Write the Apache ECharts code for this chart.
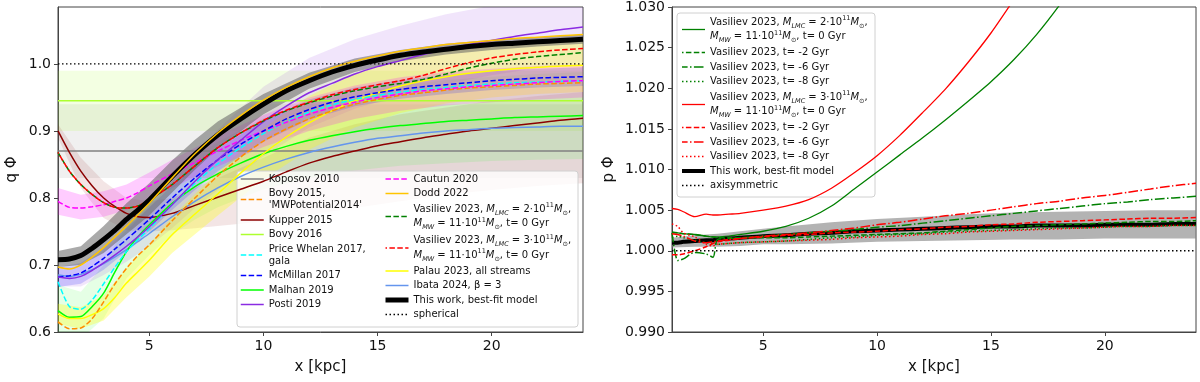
<!DOCTYPE html>
<html>
<head>
<meta charset="utf-8">
<title>q and p of the halo potential</title>
<script src="https://cdn.jsdelivr.net/npm/echarts@6/dist/echarts.min.js"></script>
<style>
    html, body { margin: 0; padding: 0; background: #fff; }
    #main { width: 1200px; height: 382px; }
</style>
</head>
<body>
<div id="main"></div>
<script>
// ---------- left panel: q_phi ----------
var xq = [1, 1.5, 2, 2.5, 3, 3.5, 4, 4.5, 5, 6, 7, 8, 9, 10, 11, 12, 13, 14, 15, 16, 17, 18, 19, 20, 21, 22, 23, 24];

var thisWorkQ    = [0.708,0.709,0.714,0.725,0.738,0.752,0.768,0.782,0.797,0.832,0.865,0.894,0.918,0.940,0.960,0.975,0.988,0.998,1.006,1.013,1.018,1.022,1.026,1.029,1.031,1.033,1.035,1.037];
var doddQ        = [0.697,0.694,0.700,0.712,0.726,0.742,0.758,0.775,0.792,0.830,0.866,0.897,0.923,0.946,0.965,0.981,0.994,1.004,1.012,1.019,1.024,1.029,1.032,1.035,1.038,1.040,1.042,1.044];
var kupperQ      = [0.900,0.868,0.840,0.818,0.800,0.787,0.777,0.772,0.771,0.777,0.789,0.801,0.813,0.825,0.839,0.852,0.862,0.870,0.878,0.884,0.890,0.895,0.900,0.904,0.908,0.912,0.916,0.919];
var malhanQ      = [0.632,0.622,0.623,0.638,0.658,0.690,0.720,0.742,0.760,0.792,0.817,0.836,0.852,0.866,0.877,0.886,0.893,0.899,0.904,0.908,0.911,0.914,0.916,0.918,0.920,0.921,0.922,0.923];
var postiQ       = [0.682,0.680,0.683,0.692,0.703,0.715,0.728,0.742,0.757,0.790,0.825,0.857,0.886,0.914,0.937,0.957,0.971,0.985,0.996,1.005,1.014,1.022,1.029,1.035,1.041,1.046,1.051,1.055];
var mcmillanQ    = [0.682,0.684,0.688,0.698,0.710,0.724,0.738,0.753,0.768,0.800,0.830,0.857,0.880,0.900,0.918,0.932,0.943,0.951,0.957,0.962,0.966,0.969,0.972,0.975,0.977,0.979,0.980,0.981];
var priceWhelanQ = [0.675,0.638,0.634,0.648,0.672,0.697,0.720,0.738,0.754,0.790,0.822,0.851,0.875,0.896,0.914,0.928,0.939,0.947,0.953,0.958,0.962,0.965,0.968,0.970,0.972,0.973,0.974,0.975];
var bovy15Q      = [0.615,0.605,0.606,0.620,0.645,0.672,0.695,0.714,0.730,0.766,0.800,0.833,0.861,0.885,0.903,0.918,0.930,0.940,0.947,0.953,0.957,0.961,0.964,0.966,0.968,0.970,0.971,0.972];
var cautunQ      = [0.795,0.786,0.785,0.787,0.790,0.795,0.800,0.808,0.818,0.836,0.853,0.870,0.886,0.900,0.913,0.925,0.935,0.943,0.950,0.955,0.960,0.963,0.966,0.968,0.970,0.972,0.974,0.975];
var vas2Q        = [0.868,0.840,0.820,0.805,0.793,0.786,0.785,0.788,0.797,0.820,0.848,0.875,0.897,0.915,0.930,0.942,0.952,0.960,0.966,0.971,0.977,0.985,0.994,1.001,1.007,1.011,1.014,1.017];
var vas3Q        = [0.868,0.840,0.820,0.805,0.793,0.786,0.785,0.788,0.797,0.820,0.848,0.875,0.897,0.916,0.931,0.943,0.954,0.962,0.969,0.975,0.983,0.993,1.002,1.009,1.014,1.018,1.021,1.023];
var palauQ       = [0.627,0.620,0.620,0.626,0.635,0.652,0.673,0.690,0.707,0.745,0.776,0.806,0.837,0.866,0.891,0.912,0.930,0.945,0.957,0.967,0.975,0.981,0.986,0.990,0.993,0.995,0.997,0.998];
var ibataQ       = [0.685,0.683,0.686,0.693,0.702,0.712,0.723,0.735,0.747,0.772,0.795,0.815,0.832,0.846,0.858,0.868,0.876,0.883,0.889,0.893,0.897,0.900,0.902,0.904,0.905,0.906,0.907,0.907];

// constant measurements [value, low, high]
var koposov = [0.87, 0.83, 0.94];
var bovy16  = [0.945, 0.90, 0.99];
var sphericalQ = 1.0;

// uncertainty bands (coarser grid)
var bxq = [1, 2, 3, 4, 5, 6, 7, 8, 10, 12, 14, 16, 18, 20, 22, 24];
var thisWorkLo = [0.697,0.700,0.718,0.746,0.774,0.808,0.842,0.874,0.925,0.963,0.988,1.004,1.014,1.021,1.026,1.030];
var thisWorkHi = [0.721,0.728,0.758,0.792,0.822,0.856,0.887,0.914,0.955,0.987,1.008,1.021,1.030,1.036,1.040,1.044];
var mcmillanLo = [0.667,0.672,0.693,0.720,0.750,0.782,0.812,0.840,0.884,0.917,0.937,0.948,0.955,0.961,0.965,0.967];
var mcmillanHi = [0.697,0.703,0.726,0.755,0.786,0.818,0.848,0.874,0.916,0.947,0.965,0.976,0.983,0.989,0.993,0.995];
var postiLo    = [0.668,0.668,0.685,0.705,0.728,0.755,0.785,0.812,0.862,0.905,0.933,0.953,0.970,0.983,0.994,1.003];
var postiHi    = [0.696,0.698,0.721,0.751,0.786,0.825,0.865,0.902,0.966,1.009,1.037,1.057,1.074,1.087,1.098,1.107];
var cautunLo   = [0.775,0.768,0.772,0.782,0.798,0.815,0.831,0.847,0.876,0.900,0.918,0.930,0.938,0.943,0.947,0.950];
var cautunHi   = [0.815,0.805,0.810,0.820,0.838,0.857,0.875,0.893,0.924,0.950,0.968,0.980,0.988,0.993,0.997,1.000];
var palauLo    = [0.612,0.605,0.617,0.652,0.683,0.718,0.746,0.774,0.828,0.872,0.905,0.927,0.941,0.950,0.955,0.958];
var palauHi    = [0.642,0.637,0.655,0.695,0.731,0.772,0.806,0.838,0.904,0.952,0.985,1.007,1.021,1.030,1.035,1.038];
var malhanLo   = [0.600,0.590,0.620,0.680,0.715,0.745,0.768,0.786,0.813,0.830,0.841,0.848,0.852,0.855,0.857,0.858];
var malhanHi   = [0.670,0.660,0.700,0.760,0.800,0.835,0.862,0.884,0.919,0.942,0.957,0.968,0.976,0.981,0.985,0.988];
var kupperLo   = [0.890,0.815,0.770,0.752,0.750,0.752,0.755,0.758,0.765,0.775,0.785,0.795,0.805,0.812,0.818,0.822];
var kupperHi   = [0.910,0.860,0.825,0.800,0.795,0.800,0.815,0.830,0.860,0.890,0.910,0.925,0.935,0.945,0.952,0.958];

// ---------- right panel: p_phi ----------
var xp = [1, 1.25, 1.5, 2, 2.5, 2.8, 3, 3.5, 4, 5, 6, 7, 8, 9, 10, 11, 12, 13, 14, 15, 16, 17, 18, 19, 20, 21, 22, 23, 24];

var v2t0P  = [1.0022,1.0022,1.0021,1.0020,1.0018,1.0017,1.0017,1.0018,1.0020,1.0024,1.0030,1.0040,1.0055,1.0076,1.0097,1.0118,1.0139,1.0161,1.0184,1.0208,1.0235,1.0266,1.0302,1.0342];
var v2t2P  = [1.0023,1.0022,1.0021,1.0020,1.0018,1.0017,1.0016,1.0016,1.0016,1.0016,1.0016,1.0017,1.0018,1.0019,1.0020,1.0021,1.0022,1.0024,1.0026,1.0028,1.0030,1.0031,1.0032,1.0033,1.0034,1.0035,1.0036,1.0036,1.0037];
var v2t6P  = [1.0022,0.9988,0.9990,0.9998,0.9996,0.9992,1.0014,1.0015,1.0016,1.0018,1.0020,1.0022,1.0024,1.0026,1.0029,1.0031,1.0034,1.0037,1.0040,1.0043,1.0046,1.0049,1.0052,1.0055,1.0058,1.0060,1.0063,1.0065,1.0067];
var v2t8P  = [1.0016,1.0018,1.0016,1.0013,1.0010,1.0009,1.0008,1.0009,1.0010,1.0011,1.0012,1.0014,1.0016,1.0017,1.0019,1.0020,1.0021,1.0023,1.0024,1.0025,1.0026,1.0027,1.0028,1.0028,1.0029,1.0030,1.0030,1.0031,1.0031];
var v3t0P  = [1.0052,1.0051,1.0048,1.0042,1.0045,1.0044,1.0044,1.0045,1.0046,1.0050,1.0055,1.0063,1.0077,1.0096,1.0117,1.0142,1.0170,1.0199,1.0232,1.0268,1.0309];
var v3t2P  = [0.9995,0.9995,0.9996,1.0000,1.0005,1.0009,1.0011,1.0013,1.0015,1.0017,1.0019,1.0020,1.0022,1.0023,1.0024,1.0026,1.0027,1.0029,1.0030,1.0032,1.0033,1.0035,1.0036,1.0037,1.0038,1.0039,1.0040,1.0040,1.0041];
var v3t6P  = [1.0021,1.0020,1.0018,1.0012,1.0010,1.0011,1.0012,1.0014,1.0015,1.0018,1.0020,1.0022,1.0025,1.0028,1.0032,1.0035,1.0039,1.0043,1.0046,1.0050,1.0054,1.0058,1.0061,1.0065,1.0068,1.0072,1.0076,1.0080,1.0083];
var v3t8P  = [1.0033,1.0030,1.0022,1.0017,1.0008,1.0006,1.0008,1.0009,1.0010,1.0011,1.0012,1.0013,1.0014,1.0016,1.0017,1.0018,1.0020,1.0021,1.0023,1.0024,1.0025,1.0026,1.0027,1.0028,1.0029,1.0030,1.0030,1.0031,1.0031];
var thisWorkP = [1.0010,1.0010,1.0011,1.0012,1.0013,1.0013,1.0014,1.0015,1.0016,1.0018,1.0019,1.0021,1.0022,1.0024,1.0025,1.0026,1.0027,1.0028,1.0029,1.0030,1.0030,1.0031,1.0031,1.0031,1.0032,1.0032,1.0032,1.0033,1.0033];
var axisymP = 1.0;

var bxp = [1, 2, 3, 4, 5, 6, 8, 10, 12, 14, 16, 18, 20, 22, 24];
var thisWorkPLo = [1.0004,1.0005,1.0005,1.0006,1.0008,1.0008,1.0009,1.0011,1.0012,1.0013,1.0014,1.0014,1.0015,1.0015,1.0015];
var thisWorkPHi = [1.0016,1.0019,1.0021,1.0024,1.0027,1.0030,1.0035,1.0039,1.0042,1.0045,1.0047,1.0048,1.0049,1.0050,1.0050];

// ticks
var xTicks = [5, 10, 15, 20];
var qTicks = [0.6, 0.7, 0.8, 0.9, 1.0];
var pTicks = [0.990, 0.995, 1.000, 1.005, 1.010, 1.015, 1.020, 1.025, 1.030];

// ---------- helpers ----------
var FONT = 'DejaVu Sans';
var DASH = [5.5, 2.4], DOT = [1.5, 2.5], DASHDOT = [9.6, 2.4, 1.5, 2.4];

function pairs(xs, ys) {
    var out = [];
    for (var i = 0; i < ys.length; i++) out.push([xs[i], ys[i]]);
    return out;
}

function line(name, ax, xs, ys, color, width, type) {
    return {
        name: name, type: 'line', xAxisIndex: ax, yAxisIndex: ax,
        data: pairs(xs, ys), symbol: 'none', smooth: 0.25, silent: true,
        lineStyle: { color: color, width: width, type: type || 'solid' },
        itemStyle: { color: color }
    };
}

// filled band between lo and hi, drawn as one polygon through the axes
function band(id, ax, xs, lo, hi, fill) {
    return {
        name: id, type: 'custom', xAxisIndex: ax, yAxisIndex: ax, clip: true, silent: true,
        data: xs.map(function (x, i) { return [x, lo[i], hi[i]]; }),
        encode: { x: 0, y: [1, 2] },
        renderItem: function (params, api) {
            if (params.dataIndex !== 0) return;
            var pts = [], i;
            for (i = 0; i < xs.length; i++) pts.push(api.coord([xs[i], hi[i]]));
            for (i = xs.length - 1; i >= 0; i--) pts.push(api.coord([xs[i], lo[i]]));
            return { type: 'polygon', shape: { points: pts }, style: { fill: fill } };
        }
    };
}

function flat(name, ax, value, color, width, type, area, areaColor) {
    var s = line(name, ax, [1, 24], [value, value], color, width, type);
    s.smooth = false;
    if (area) {
        s.markArea = { silent: true, itemStyle: { color: areaColor },
            data: [[{ yAxis: area[0] }, { yAxis: area[1] }]] };
    }
    return s;
}

// legend labels (math via rich text)
function vasLabel(m) {
    return '{n|Vasiliev 2023, }{i|M}{s|LMC}{n| = ' + m + '·10}{p|11}{i|M}{s|⊙}{n|,}\n' +
           '{i|M}{s|MW}{n| = 11·10}{p|11}{i|M}{s|⊙}{n|, t= 0 Gyr}';
}
var labels = {
    'Bovy 2015': "Bovy 2015,\n'MWPotential2014'",
    'Price Whelan 2017': 'Price Whelan 2017,\ngala',
    'Vasiliev LMC2': vasLabel(2),
    'Vasiliev LMC3': vasLabel(3),
    'Palau 2023': 'Palau 2023, all streams',
    'Ibata 2024': 'Ibata 2024, β = 3',
    'This work': 'This work, best-fit model',
    'V2 t0': vasLabel(2),
    'V3 t0': vasLabel(3),
    'V2 t-2': 'Vasiliev 2023, t= -2 Gyr',
    'V2 t-6': 'Vasiliev 2023, t= -6 Gyr',
    'V2 t-8': 'Vasiliev 2023, t= -8 Gyr',
    'V3 t-2': 'Vasiliev 2023, t= -2 Gyr',
    'V3 t-6': 'Vasiliev 2023, t= -6 Gyr',
    'V3 t-8': 'Vasiliev 2023, t= -8 Gyr',
    'This work p': 'This work, best-fit model'
};

var legendText = {
    fontFamily: FONT, fontSize: 10, color: '#111', lineHeight: 12,
    rich: {
        n: { fontFamily: FONT, fontSize: 10, lineHeight: 14.5, color: '#111' },
        i: { fontFamily: FONT, fontSize: 10, fontStyle: 'italic', lineHeight: 14.5, color: '#111' },
        s: { fontFamily: FONT, fontSize: 6.5, fontStyle: 'italic', lineHeight: 9, verticalAlign: 'bottom', color: '#111' },
        p: { fontFamily: FONT, fontSize: 6.5, lineHeight: 9, verticalAlign: 'top', color: '#111' }
    }
};

function legend(names, left, top) {
    return {
        data: names, orient: 'vertical', left: left, top: top,
        itemWidth: 23, itemHeight: 10, itemGap: 2.5, padding: 5,
        selectedMode: false, textStyle: legendText,
        itemStyle: { opacity: 0, borderWidth: 0 },
        lineStyle: { width: 'inherit' },
        formatter: function (n) { return labels[n] || n; }
    };
}

function xAxis(grid) {
    return {
        type: 'value', gridIndex: grid, min: 1, max: 24,
        name: 'x [kpc]', nameLocation: 'middle', nameGap: 28,
        nameTextStyle: { fontFamily: FONT, fontSize: 15, color: '#111' },
        axisLine: { lineStyle: { color: '#444', width: 1 } },
        axisTick: { customValues: xTicks, length: 4, inside: false, lineStyle: { color: '#444' } },
        axisLabel: { customValues: xTicks, fontFamily: FONT, fontSize: 14, color: '#111', margin: 7 },
        splitLine: { show: false }
    };
}

function yAxis(grid, name, min, max, ticks, digits, gap) {
    return {
        type: 'value', gridIndex: grid, min: min, max: max,
        name: name, nameLocation: 'middle', nameGap: gap, nameRotate: 90,
        nameTextStyle: { fontFamily: FONT, fontSize: 15, color: '#111' },
        axisLine: { show: true, lineStyle: { color: '#444', width: 1 } },
        axisTick: { show: true, customValues: ticks, length: 4, lineStyle: { color: '#444' } },
        axisLabel: { customValues: ticks, fontFamily: FONT, fontSize: 14, color: '#111', margin: 7,
            formatter: function (v) { return v.toFixed(digits); } },
        splitLine: { show: false }
    };
}

// ---------- series ----------
var series = [];
// left: constant measurements with their ranges
series.push(flat('Koposov 2010', 0, koposov[0], '#808080', 1.5, 'solid', [koposov[1], koposov[2]], 'rgba(128,128,128,0.12)'));
series.push(flat('Bovy 2016', 0, bovy16[0], '#ADFF2F', 1.5, 'solid', [bovy16[1], bovy16[2]], 'rgba(173,255,47,0.14)'));
// left: bands
series.push(
    band('kupperB', 0, bxq, kupperLo, kupperHi, 'rgba(139,0,0,0.10)'),
    band('malhanB', 0, bxq, malhanLo, malhanHi, 'rgba(0,255,0,0.10)'),
    band('postiB', 0, bxq, postiLo, postiHi, 'rgba(138,43,226,0.12)'),
    band('palauB', 0, bxq, palauLo, palauHi, 'rgba(255,255,0,0.30)'),
    band('cautunB', 0, bxq, cautunLo, cautunHi, 'rgba(255,0,255,0.20)'),
    band('mcmillanB', 0, bxq, mcmillanLo, mcmillanHi, 'rgba(0,0,255,0.16)'),
    band('thisWorkB', 0, bxq, thisWorkLo, thisWorkHi, 'rgba(100,100,100,0.55)')
);
// left: curves
var vas3Line = line('Vasiliev LMC3', 0, xq, vas3Q, '#FF0000', 1.5, DASH);
vas3Line.lineStyle.dashOffset = 4;   // interleave with the green dashes
series.push(
    line('Kupper 2015', 0, xq, kupperQ, '#8B0000', 1.5),
    line('Ibata 2024', 0, xq, ibataQ, '#6495ED', 1.5),
    line('Malhan 2019', 0, xq, malhanQ, '#00FF00', 1.5),
    line('Palau 2023', 0, xq, palauQ, '#FFFF00', 1.5),
    line('Bovy 2015', 0, xq, bovy15Q, '#FF8C00', 1.5, DASH),
    line('Price Whelan 2017', 0, xq, priceWhelanQ, '#00FFFF', 1.5, DASH),
    line('Cautun 2020', 0, xq, cautunQ, '#FF00FF', 1.5, DASH),
    line('McMillan 2017', 0, xq, mcmillanQ, '#0000FF', 1.5, DASH),
    line('Posti 2019', 0, xq, postiQ, '#8A2BE2', 1.5),
    line('Vasiliev LMC2', 0, xq, vas2Q, '#008000', 1.5, DASH),
    vas3Line,
    line('This work', 0, xq, thisWorkQ, '#000000', 5),
    line('Dodd 2022', 0, xq, doddQ, '#FFC400', 1.5),
    flat('spherical', 0, sphericalQ, '#000000', 1.3, DOT)
);

// right panel
series.push(
    band('thisWorkPB', 1, bxp, thisWorkPLo, thisWorkPHi, 'rgba(128,128,128,0.6)'),
    line('V2 t0', 1, xp, v2t0P, '#008000', 1.3),
    line('V3 t0', 1, xp, v3t0P, '#FF0000', 1.3),
    line('This work p', 1, xp, thisWorkP, '#000000', 4),
    line('V2 t-2', 1, xp, v2t2P, '#008000', 1.5, DASH),
    line('V2 t-6', 1, xp, v2t6P, '#008000', 1.5, DASHDOT),
    line('V2 t-8', 1, xp, v2t8P, '#008000', 1.5, DOT),
    line('V3 t-2', 1, xp, v3t2P, '#FF0000', 1.5, DASH),
    line('V3 t-6', 1, xp, v3t6P, '#FF0000', 1.5, DASHDOT),
    line('V3 t-8', 1, xp, v3t8P, '#FF0000', 1.5, DOT),
    flat('axisymmetric', 1, axisymP, '#000000', 1.3, DOT)
);

var myChart = echarts.init(document.getElementById('main'), null, { renderer: 'canvas' });
var option = {
    animation: false,
    backgroundColor: '#fff',
    textStyle: { fontFamily: FONT },
    grid: [
        { left: 58, top: 7, width: 525, height: 325, show: true, borderColor: '#444', borderWidth: 1, backgroundColor: 'transparent' },
        { left: 672, top: 7, width: 524, height: 325, show: true, borderColor: '#444', borderWidth: 1, backgroundColor: 'transparent' }
    ],
    xAxis: [xAxis(0), xAxis(1)],
    yAxis: [
        yAxis(0, 'q Φ', 0.6, 1.085, qTicks, 1, 38),
        yAxis(1, 'p Φ', 0.99, 1.03, pTicks, 3, 55)
    ],
    // legend frames (semi-transparent like matplotlib)
    graphic: [
        { type: 'rect', z: 3, silent: true, shape: { x: 237, y: 171, width: 341, height: 156, r: 3 },
          style: { fill: 'rgba(255,255,255,0.8)', stroke: '#d0d0d0', lineWidth: 1 } },
        { type: 'rect', z: 3, silent: true, shape: { x: 677, y: 13, width: 198, height: 184, r: 3 },
          style: { fill: 'rgba(255,255,255,0.8)', stroke: '#d0d0d0', lineWidth: 1 } }
    ],
    legend: [
        legend(['Koposov 2010', 'Bovy 2015', 'Kupper 2015', 'Bovy 2016', 'Price Whelan 2017', 'McMillan 2017', 'Malhan 2019', 'Posti 2019'], 235, 168),
        legend(['Cautun 2020', 'Dodd 2022', 'Vasiliev LMC2', 'Vasiliev LMC3', 'Palau 2023', 'Ibata 2024', 'This work', 'spherical'], 378, 168),
        legend(['V2 t0', 'V2 t-2', 'V2 t-6', 'V2 t-8', 'V3 t0', 'V3 t-2', 'V3 t-6', 'V3 t-8', 'This work p', 'axisymmetric'], 675, 10)
    ],
    series: series
};
myChart.setOption(option);
</script>
</body>
</html>
